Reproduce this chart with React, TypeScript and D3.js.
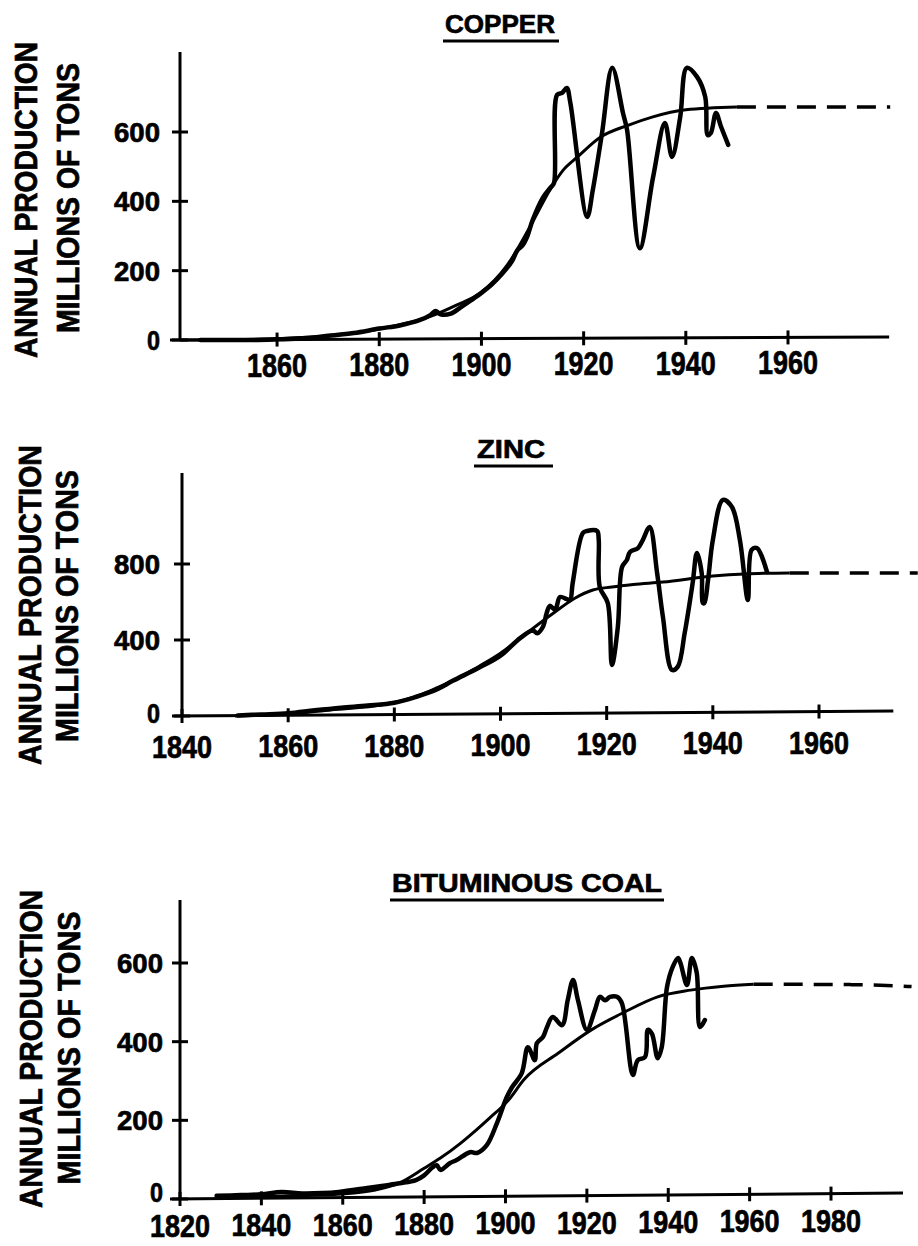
import React from 'react';
import * as d3 from 'd3';

type Pt = [number, number];

// ---------- COPPER ----------
const copperXTicks = [1860, 1880, 1900, 1920, 1940, 1960];
const copperYTicks = [0, 200, 400, 600];
const copperData: Pt[] = [
  [1845, 0], [1855, 0], [1860, 2], [1865, 5], [1870, 12], [1875, 20], [1880, 33], [1884, 42],
  [1888, 58], [1890, 72], [1891, 84], [1892, 74], [1894, 76], [1896, 95], [1898, 115], [1900, 136],
  [1902, 160], [1904, 190], [1906, 228], [1907, 258], [1908, 272], [1909, 300], [1910, 345],
  [1912, 410], [1913.6, 441], [1914.2, 453], [1914.8, 707], [1915.8, 713], [1916.7, 727],
  [1917.4, 684], [1920.7, 355], [1921.8, 433], [1923.6, 597], [1925.6, 785], [1927.7, 655],
  [1928.5, 606], [1931.0, 265], [1933.6, 470], [1935.9, 626], [1937.3, 528], [1938.9, 643],
  [1940.2, 785], [1942.2, 759], [1943.8, 701], [1944.3, 591], [1944.9, 597], [1945.9, 655],
  [1946.9, 615], [1948.3, 563],
];
const copperTrend: Pt[] = [
  [1841, 0], [1850, 1], [1860, 4], [1870, 12], [1880, 32], [1890, 68], [1895, 100], [1900, 138],
  [1905, 215], [1910, 340], [1913.4, 433], [1916, 490], [1918.8, 528], [1923.4, 586],
  [1928.8, 620], [1933.4, 643], [1940, 664], [1950, 672],
];
const copperProjection: Pt[] = [[1950, 672], [1980, 672]];

// ---------- ZINC ----------
const zincXTicks = [1840, 1860, 1880, 1900, 1920, 1940, 1960];
const zincYTicks = [0, 400, 800];
const zincData: Pt[] = [
  [1850.5, 3], [1855, 8], [1860, 14], [1865, 30], [1870, 44], [1875, 55], [1880, 70], [1884, 100],
  [1888, 140], [1891, 185], [1896, 255], [1900, 318], [1903.7, 410], [1906.1, 450], [1906.9, 435],
  [1908, 470], [1908.7, 542], [1909.3, 580], [1910.3, 560], [1911.2, 626], [1912.5, 615],
  [1913.1, 610], [1913.6, 700], [1915.5, 963], [1916.3, 974], [1918.2, 974], [1918.5, 930],
  [1918.7, 679], [1920.2, 595], [1921.0, 268], [1922.1, 468], [1922.9, 784], [1923.8, 821],
  [1924.4, 863], [1925.9, 884], [1926.8, 926], [1928.1, 995], [1929.5, 753], [1930.6, 521],
  [1932.3, 242], [1933.4, 260], [1934.7, 437], [1936.2, 700], [1937.0, 858], [1937.9, 753],
  [1938.1, 595], [1938.4, 595], [1939.1, 716], [1940.0, 926], [1941.9, 1137], [1943.6, 1100],
  [1945.1, 926], [1946.6, 610], [1947.3, 874], [1948.3, 884], [1950.2, 758],
];
const zincTrend: Pt[] = [
  [1850, 0], [1860, 10], [1868, 32], [1878, 60], [1884, 102], [1888, 148], [1892, 200],
  [1896, 262], [1900, 330], [1904, 416], [1910, 542], [1914, 620], [1917.4, 663], [1921, 679],
  [1925, 692], [1930.6, 705], [1940, 737], [1946, 748], [1954.5, 753],
];
const zincProjection: Pt[] = [[1954.5, 753], [1978.6, 753]];

// ---------- BITUMINOUS COAL ----------
const coalXTicks = [1820, 1840, 1860, 1880, 1900, 1920, 1940, 1960, 1980];
const coalYTicks = [0, 200, 400, 600];
const coalData: Pt[] = [
  [1829, 8], [1835, 10], [1840, 12], [1845, 18], [1850, 14], [1855, 15], [1859, 18], [1866, 28],
  [1870, 34], [1874, 40], [1878, 48], [1880, 60], [1882, 80], [1883.1, 86], [1884, 74],
  [1886.3, 91], [1888, 99], [1891.3, 119], [1893, 117], [1895.4, 137], [1897.9, 193],
  [1900.3, 259], [1901.6, 284], [1904, 320], [1905.5, 386], [1907.2, 353], [1907.7, 396],
  [1909.2, 412], [1910.2, 437], [1911.6, 463], [1913.9, 442], [1915.3, 506], [1916.6, 557],
  [1917.8, 506], [1920, 430], [1922, 481], [1923.2, 514], [1924.5, 505], [1925.7, 514],
  [1927.4, 514], [1928.6, 498], [1931.3, 315], [1932.5, 353], [1934.3, 361], [1935, 430],
  [1936, 420], [1937.4, 358], [1938.4, 386], [1939.7, 539], [1941.1, 590], [1942.4, 613],
  [1943, 600], [1944.6, 544], [1945.8, 613], [1947, 575], [1947.8, 437], [1949, 455],
];
const coalTrend: Pt[] = [
  [1829, 3], [1840, 6], [1850, 9], [1860, 13], [1868, 23], [1874, 41], [1880, 78], [1884, 104],
  [1889, 142], [1892, 168], [1896, 205], [1900.8, 252], [1904.5, 303], [1913, 371],
  [1921.1, 430], [1929.2, 475], [1937.4, 514], [1945.5, 531], [1953.6, 541], [1961, 546],
];
const coalProjection: Pt[] = [[1961, 546], [1985, 545], [1999.8, 540]];

const FONT = "'Liberation Sans', Arial, Helvetica, sans-serif";

interface PanelProps {
  title: string;
  titleX: number;
  titleY: number;
  titleW: number;
  ulX0: number;
  ulX1: number;
  xDomain: [number, number];
  xRange: [number, number];
  yDomain: [number, number];
  yRange: [number, number];
  yAxisTopVal: number;
  xAxisMax: number;
  tilt: number;
  xTicks: number[];
  yTicks: number[];
  xLabelDy: number;
  xLabelSize: number;
  yLabelGap: number;
  zeroLabelDy: number;
  data: Pt[];
  trend: Pt[];
  projection: Pt[];
  ttl1: [number, number, number];
  ttl2: [number, number, number];
}

const textStyle = {
  fontFamily: FONT,
  fontWeight: 'bold' as const,
  fill: '#000',
  stroke: '#000',
  strokeWidth: 0.7,
};

function Panel(p: PanelProps) {
  const x = d3.scaleLinear().domain(p.xDomain).range(p.xRange);
  const y = d3.scaleLinear().domain(p.yDomain).range(p.yRange);
  const ax = x(p.xDomain[0]);
  const ay = y(0);
  const xEnd = x(p.xAxisMax);
  const tiltAt = (px: number) => -p.tilt * (px - ax) / (xEnd - ax);

  const dataLine = d3.line<Pt>().x(d => x(d[0])).y(d => y(d[1])).curve(d3.curveCatmullRom.alpha(0.5));
  const smooth = d3.line<Pt>().x(d => x(d[0])).y(d => y(d[1])).curve(d3.curveMonotoneX);

  return (
    <g>
      {/* title */}
      <text x={p.titleX} y={p.titleY} textAnchor="middle" fontSize={26} textLength={p.titleW}
        lengthAdjust="spacingAndGlyphs" style={textStyle}>{p.title}</text>
      <line x1={p.ulX0} x2={p.ulX1} y1={p.titleY + 8} y2={p.titleY + 8} stroke="#000" strokeWidth={3} />

      {/* y-axis title */}
      <text transform={`translate(${p.ttl1[0]},${p.ttl1[1]}) rotate(-90)`} textAnchor="middle"
        fontSize={31} textLength={p.ttl1[2]} lengthAdjust="spacingAndGlyphs"
        style={textStyle}>ANNUAL PRODUCTION</text>
      <text transform={`translate(${p.ttl2[0]},${p.ttl2[1]}) rotate(-90)`} textAnchor="middle"
        fontSize={31} textLength={p.ttl2[2]} lengthAdjust="spacingAndGlyphs"
        style={textStyle}>MILLIONS OF TONS</text>

      {/* axes */}
      <line x1={ax} x2={ax} y1={y(p.yAxisTopVal)} y2={ay} stroke="#000" strokeWidth={3} />
      <line x1={ax - 10} x2={xEnd} y1={ay} y2={ay + tiltAt(xEnd)} stroke="#000" strokeWidth={3} />

      {p.yTicks.map(t => (
        <g key={`y${t}`}>
          <line x1={ax - 8} x2={ax + 8} y1={y(t)} y2={y(t)} stroke="#000" strokeWidth={3} />
          <text x={ax - p.yLabelGap} y={y(t) + 10 + (t === 0 ? p.zeroLabelDy : 0)} textAnchor="end"
            fontSize={28} textLength={t === 0 ? 13 : 46} lengthAdjust="spacingAndGlyphs"
            style={textStyle}>{t}</text>
        </g>
      ))}
      {p.xTicks.map(t => {
        const tx = x(t);
        const ty = ay + tiltAt(tx);
        return (
          <g key={`x${t}`}>
            <line x1={tx} x2={tx} y1={ty - 7} y2={ty + 7} stroke="#000" strokeWidth={3} />
            <text x={tx} y={ty + p.xLabelDy} textAnchor="middle" fontSize={p.xLabelSize}
              textLength={60} lengthAdjust="spacingAndGlyphs" style={textStyle}>{t}</text>
          </g>
        );
      })}

      {/* series */}
      <path d={smooth(p.trend) || ''} fill="none" stroke="#000" strokeWidth={3} />
      <path d={smooth(p.projection) || ''} fill="none" stroke="#000" strokeWidth={3.5}
        strokeDasharray="19,11" />
      <path d={dataLine(p.data) || ''} fill="none" stroke="#000" strokeWidth={4.5}
        strokeLinejoin="round" strokeLinecap="round" />
    </g>
  );
}

export default function App() {
  return (
    <svg width={918} height={1246} viewBox="0 0 918 1246"
      style={{ position: 'absolute', left: 0, top: 0, background: '#fff' }}>
      <rect x={0} y={0} width={918} height={1246} fill="#fff" />
      <Panel
        title="COPPER" titleX={500} titleY={33} titleW={110} ulX0={443} ulX1={559}
        xDomain={[1841, 1960]} xRange={[180, 788]} yDomain={[0, 600]} yRange={[340, 132]}
        yAxisTopVal={831} xAxisMax={1979.8} tilt={3}
        xTicks={copperXTicks} yTicks={copperYTicks} xLabelDy={37} xLabelSize={33} yLabelGap={20}
        zeroLabelDy={0}
        data={copperData} trend={copperTrend} projection={copperProjection}
        ttl1={[37, 200, 316]} ttl2={[79, 198, 270]}
      />
      <Panel
        title="ZINC" titleX={511} titleY={458} titleW={68} ulX0={474} ulX1={553}
        xDomain={[1840, 1960]} xRange={[182, 819]} yDomain={[0, 800]} yRange={[716, 564]}
        yAxisTopVal={1279} xAxisMax={1974} tilt={5}
        xTicks={zincXTicks} yTicks={zincYTicks} xLabelDy={42} xLabelSize={31} yLabelGap={22}
        zeroLabelDy={-3}
        data={zincData} trend={zincTrend} projection={zincProjection}
        ttl1={[41, 605, 320]} ttl2={[78, 606, 272]}
      />
      <Panel
        title="BITUMINOUS COAL" titleX={527} titleY={892} titleW={270} ulX0={390} ulX1={664}
        xDomain={[1820, 1980]} xRange={[180, 831]} yDomain={[0, 600]} yRange={[1199, 963]}
        yAxisTopVal={760} xAxisMax={1997.7} tilt={6}
        xTicks={coalXTicks} yTicks={coalYTicks} xLabelDy={38} xLabelSize={31} yLabelGap={17}
        zeroLabelDy={-7}
        data={coalData} trend={coalTrend} projection={coalProjection}
        ttl1={[42, 1049, 318]} ttl2={[80, 1048, 273]}
      />
    </svg>
  );
}
